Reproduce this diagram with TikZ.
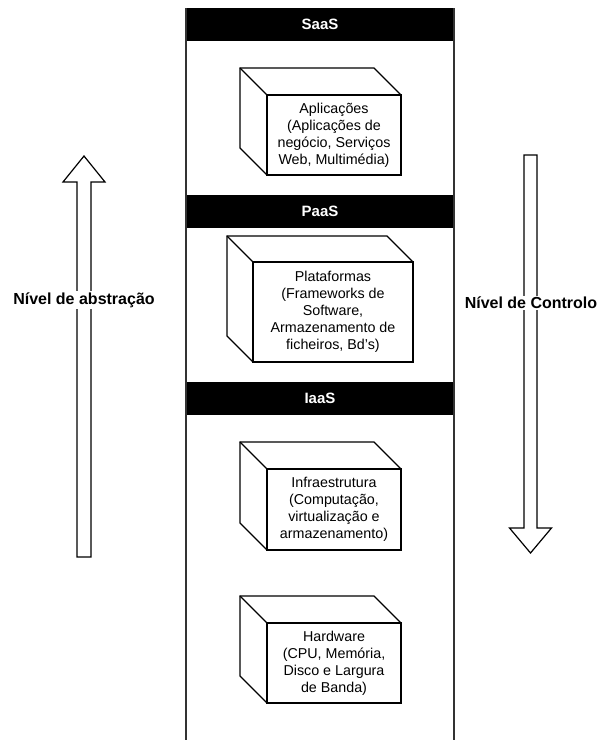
\documentclass[tikz,border=0pt]{standalone}
\usepackage{fontspec}
\setmainfont{Liberation Sans}
\usetikzlibrary{calc}

% back outline of a box whose front face is node #1, depth #2
\newcommand\cubeback[2]{%
  \draw[edge] (#1.south west) -- ++(-#2,-#2) |- ($(#1.north east)+(-#2,-#2)$) -- (#1.north east);
  \draw[edge] (#1.north west) -- ++(-#2,-#2);}

\begin{document}
\begin{tikzpicture}[x=1pt,y=-1pt,
  frame/.style={line width=1.3pt, draw=black!80},
  band/.style={fill=black, draw=black, minimum width=268pt, minimum height=32pt,
    inner sep=0pt, outer sep=0pt, text=white, font=\bfseries\fontsize{15}{18}\selectfont},
  face/.style={draw, line width=1.1pt, fill=white, minimum width=134pt, minimum height=80pt,
    inner sep=0pt, outer sep=0pt, align=center, font=\fontsize{14.3}{17}\selectfont},
  edge/.style={line width=1.1pt, line join=miter},
  bigarrow/.style={draw, line width=1.2pt, fill=white, line join=miter},
  side/.style={fill=white, inner sep=1pt, font=\bfseries\fontsize{16}{19}\selectfont}]
\useasboundingbox (0,0) rectangle (597,740);

% service layers
\node[band] (saas) at (320,24)  {SaaS};
\node[band] (paas) at (320,211) {PaaS};
\node[band] (iaas) at (320,398) {IaaS};
\coordinate (colBL) at (186,740);
\coordinate (colBR) at (454,740);
\draw[frame] (saas.north west) -- (colBL);
\draw[frame] (saas.north east) -- (colBR);

% boxes
\node[face] (app) at (334,135) {Aplicações\\(Aplicações de\\negócio, Serviços\\Web, Multimédia)};
\cubeback{app}{27}
\node[face, minimum width=160pt, minimum height=100pt] (plat) at (333,312)
  {Plataformas\\(Frameworks de\\Software,\\Armazenamento de\\ficheiros, Bd's)};
\cubeback{plat}{26}
\node[face, minimum height=81pt] (infra) at (334,509.5)
  {Infraestrutura\\(Computação,\\virtualização e\\armazenamento)};
\cubeback{infra}{27}
\node[face] (hw) at (334,663) {Hardware\\(CPU, Memória,\\Disco e Largura\\de Banda)};
\cubeback{hw}{27}

% abstraction arrow (upwards)
\draw[bigarrow] (77,557) -- (77,182) -- (63,182) -- (84,156) -- (105,182) -- (91,182) -- (91,557) -- cycle;
\node[side] (abs) at (84,300) {Nível de abstração};

% control arrow (downwards)
\draw[bigarrow] (524,155) -- (537,155) -- (537,528) -- (551.5,528) -- (530.5,553) -- (509.5,528) -- (524,528) -- cycle;
\node[side] (ctl) at (531,303) {Nível de Controlo};
\end{tikzpicture}
\end{document}
